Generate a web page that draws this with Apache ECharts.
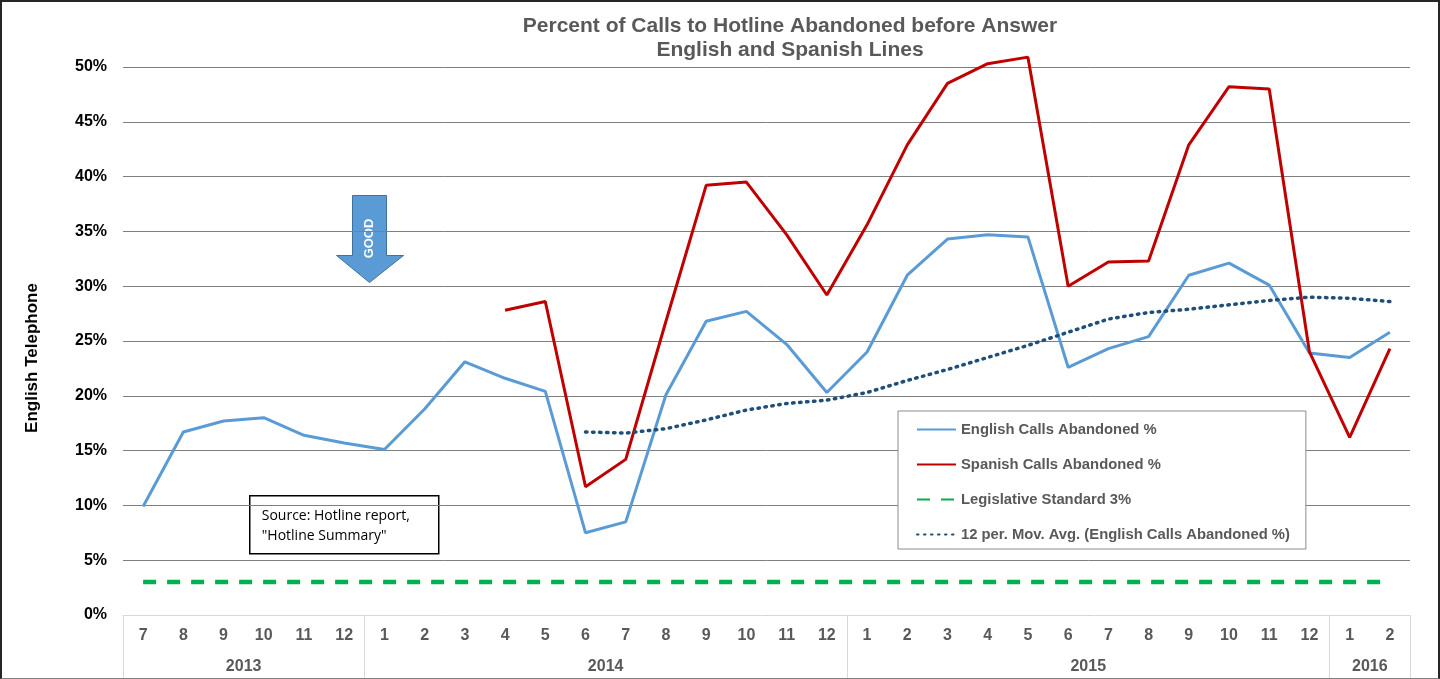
<!DOCTYPE html>
<html lang="en">
  <head>
    <meta charset="UTF-8" />
    <title>Hotline abandoned calls</title>
    <style>
      body { margin: 0; background: #fff; }
      #wrap { position: relative; width: 1440px; height: 679px; }
      #main { width: 1440px; height: 679px; }
      #frame {
        position: absolute; left: 0; top: 0; width: 1440px; height: 679px;
        box-sizing: border-box; border: 2px solid #262626; border-bottom: 1px solid #7f7f7f;
        pointer-events: none;
      }
    </style>
  </head>
  <body>
    <div id="wrap">
      <div id="main"></div>
      <div id="frame"></div>
    </div>

    <script src="https://cdn.jsdelivr.net/npm/echarts@6/dist/echarts.min.js"></script>
    <script>
      // months 7/2013 .. 2/2016
      const months = ['7', '8', '9', '10', '11', '12',
        '1', '2', '3', '4', '5', '6', '7', '8', '9', '10', '11', '12',
        '1', '2', '3', '4', '5', '6', '7', '8', '9', '10', '11', '12',
        '1', '2']
      const years = ['2013', '2014', '2015', '2016']
      const yearMonths = [6, 12, 12, 2]

      const english = [9.9, 16.7, 17.7, 18.0, 16.4, 15.7,
        15.1, 18.8, 23.1, 21.6, 20.4, 7.5, 8.5, 20.1, 26.8, 27.7, 24.7, 20.3,
        24.0, 31.0, 34.3, 34.7, 34.5, 22.6, 24.3, 25.4, 31.0, 32.1, 30.1, 23.9,
        23.5, 25.8]
      const spanish = [null, null, null, null, null, null,
        null, null, null, 27.8, 28.6, 11.7, 14.2, 26.8, 39.2, 39.5, 34.7, 29.2,
        35.6, 42.9, 48.5, 50.3, 50.9, 30.0, 32.2, 32.3, 42.9, 48.2, 48.0, 24.0,
        16.2, 24.3]
      const movAvg = [null, null, null, null, null, null,
        null, null, null, null, null, 16.7, 16.6, 17.0, 17.8, 18.7, 19.3, 19.6,
        20.3, 21.4, 22.4, 23.5, 24.6, 25.8, 27.0, 27.6, 27.9, 28.3, 28.7, 29.0,
        28.9, 28.6]
      const standard = months.map(() => 3)

      // year row: one point per month boundary, year label at middle of its span
      const yearPoints = new Array(months.length + 1).fill('')
      const yearEdges = [0]
      let pos = 0
      years.forEach((y, i) => {
        yearPoints[pos + yearMonths[i] / 2] = y
        pos += yearMonths[i]
        yearEdges.push(pos)
      })

      const gray = '#595959'
      const myChart = echarts.init(document.getElementById('main'))

      const option = {
        animation: false,
        title: {
          text: 'Percent of Calls to Hotline Abandoned before Answer\nEnglish and Spanish Lines',
          left: 785,
          textAlign: 'center',
          top: 9,
          textStyle: { fontFamily: 'Liberation Sans', fontWeight: 'bold', fontSize: 21, color: gray, lineHeight: 24 }
        },
        grid: { left: 123, right: 30, top: 67, bottom: 64 },
        legend: {
          orient: 'vertical',
          left: 898,
          top: 411,
          padding: [11, 16, 7, 18],
          itemGap: 20,
          itemWidth: 39,
          itemHeight: 15,
          borderColor: '#8c8c8c',
          borderWidth: 1,
          backgroundColor: '#fff',
          itemStyle: { opacity: 0 },
          textStyle: { fontFamily: 'Liberation Sans', fontWeight: 'bold', fontSize: 14.8, color: gray },
          data: ['English Calls Abandoned %', 'Spanish Calls Abandoned %', 'Legislative Standard 3%',
            '12 per. Mov. Avg. (English Calls Abandoned %)']
        },
        xAxis: [
          {
            type: 'category',
            data: months,
            axisLine: { lineStyle: { color: '#d9d9d9', width: 1 } },
            axisTick: { show: false },
            axisLabel: { interval: 0, margin: 13, fontFamily: 'Liberation Sans', fontWeight: 'bold', fontSize: 16, color: gray }
          },
          {
            type: 'category',
            position: 'bottom',
            boundaryGap: false,
            data: yearPoints,
            axisLine: { show: false },
            axisTick: {
              show: true,
              length: 64,
              interval: (i) => yearEdges.includes(i),
              lineStyle: { color: '#d9d9d9' }
            },
            axisLabel: { interval: 0, margin: 44, fontFamily: 'Liberation Sans', fontWeight: 'bold', fontSize: 16, color: gray }
          }
        ],
        yAxis: {
          type: 'value',
          min: 0,
          max: 50,
          interval: 5,
          name: 'English Telephone',
          nameLocation: 'middle',
          nameGap: 82,
          nameTextStyle: { fontFamily: 'Liberation Sans', fontWeight: 'bold', fontSize: 17, color: '#000', padding: [0, 34, 0, 0] },
          axisLine: { show: false },
          axisTick: { show: false },
          axisLabel: { formatter: '{value}%', margin: 16, fontFamily: 'Liberation Sans', fontWeight: 'bold', fontSize: 16, color: '#000' },
          splitLine: { lineStyle: { color: '#7f7f7f', width: 1 } }
        },
        series: [
          {
            name: 'English Calls Abandoned %',
            type: 'line',
            data: english,
            symbol: 'none',
            clip: false,
            itemStyle: { color: '#5b9bd5' },
            lineStyle: { color: '#5b9bd5', width: 3 },
            z: 3
          },
          {
            name: 'Spanish Calls Abandoned %',
            type: 'line',
            data: spanish,
            symbol: 'none',
            clip: false,
            itemStyle: { color: '#c00000' },
            lineStyle: { color: '#c00000', width: 3 },
            z: 4
          },
          {
            name: 'Legislative Standard 3%',
            type: 'line',
            data: standard,
            symbol: 'none',
            itemStyle: { color: '#00b050' },
            lineStyle: { color: '#00b050', width: 4.5, type: [13, 11] },
            z: 2
          },
          {
            name: '12 per. Mov. Avg. (English Calls Abandoned %)',
            type: 'line',
            data: movAvg,
            symbol: 'none',
            itemStyle: { color: '#1f4e79' },
            lineStyle: { color: '#1f4e79', width: 3.5, type: [1.5, 5.5], cap: 'round' },
            z: 5
          }
        ],
        graphic: [
          {
            // "GOOD" arrow
            type: 'group',
            left: 336,
            top: 195,
            children: [
              {
                type: 'polygon',
                shape: { points: [[16, 0], [50, 0], [50, 60], [67, 60], [33, 87], [0, 60], [16, 60]] },
                style: { fill: '#5b9bd5', stroke: '#41719c', lineWidth: 1 }
              },
              {
                type: 'text',
                x: 33,
                y: 43,
                rotation: Math.PI / 2,
                style: {
                  text: 'GOOD', fill: '#fff', font: 'bold 13px "Liberation Sans"',
                  align: 'center', verticalAlign: 'middle'
                }
              }
            ]
          },
          {
            // source note
            type: 'group',
            left: 249,
            top: 495,
            children: [
              {
                type: 'rect',
                shape: { x: 0, y: 0, width: 189, height: 58 },
                style: { fill: '#fff', stroke: '#000', lineWidth: 1.5 }
              },
              {
                type: 'text',
                x: 12,
                y: 10,
                style: {
                  text: 'Source: Hotline report,\n"Hotline Summary"', fill: '#000',
                  font: '14px "Open Sans"', lineHeight: 20
                }
              }
            ]
          }
        ]
      }
      myChart.setOption(option)
    </script>
  </body>
</html>
